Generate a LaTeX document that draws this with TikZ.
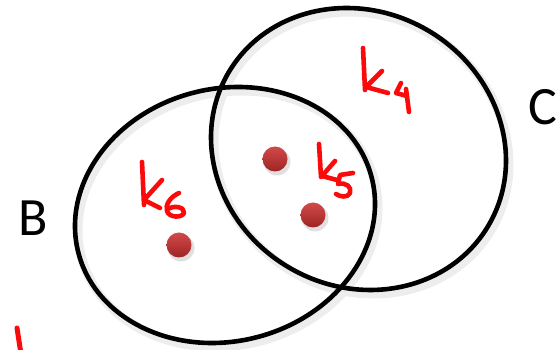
\documentclass[tikz,border=0pt]{standalone}
\usepackage{fontspec}
\setmainfont{Carlito}
\usetikzlibrary{positioning}
\definecolor{ink}{RGB}{250,10,10}
\definecolor{dottop}{RGB}{210,74,74}
\definecolor{dotbot}{RGB}{158,36,36}

\begin{document}
\begin{tikzpicture}[x=1pt, y=1pt,
    setline/.style={line width=4.6pt},
    setshadow/.style={line width=9pt, black!7},
    inkline/.style={ink, line width=4.6pt, line cap=round, line join=round},
    setlabel/.style={font=\fontsize{54}{54}\selectfont, inner sep=0pt}]
  \useasboundingbox (0,0) rectangle (559,350);
  \def\dotr{12.5} % dot radius

  % soft shadows of the two sets
  \draw[setshadow, rotate around={14.3:(228,131)}] (228,131) ellipse (151.4 and 126.3);
  \draw[setshadow, rotate around={-30.5:(361.5,197)}] (361.5,197) ellipse (150.8 and 137.4);

  % set B and set C
  \draw[setline, rotate around={14.3:(225,135)}] (225,135) ellipse (151.4 and 126.3);
  \draw[setline, rotate around={-30.5:(358.5,201)}] (358.5,201) ellipse (150.8 and 137.4);

  % set labels
  \node[setlabel] (labB) at (33,132) {B};
  \node[setlabel] (labC) at (543,243) {C};

  % elements (red dots)
  \foreach \px/\py in {275/191, 313/135, 179/105} {
    \fill[black!12] (\px+2,\py-3) circle (\dotr+1);
    \shade[top color=dottop, bottom color=dotbot] (\px,\py) circle (\dotr);
  }

  % handwritten k6
  \draw[inkline] (142,188) -- (144,145);
  \draw[inkline] (162,170) -- (144,150) -- (160,142);
  \draw[inkline] (179,157) .. controls (170,153) and (165,145) .. (167,139)
    .. controls (169,132) and (182,132) .. (184,137)
    .. controls (185,143) and (174,145) .. (168,141);

  % handwritten k4
  \draw[inkline] (363,302) -- (365,260);
  \draw[inkline] (382,279) -- (366,263) -- (388,257);
  \draw[inkline] (401,267) -- (396,257) -- (407,254);
  \draw[inkline] (406,261) -- (409,238);

  % handwritten k5
  \draw[inkline] (319,206) -- (321,173);
  \draw[inkline] (335,189) -- (322,174) -- (337,170);
  \draw[inkline] (353,177) -- (340,175) -- (338,166)
    .. controls (346,168) and (352,163) .. (350,157)
    .. controls (348,152) and (340,153) .. (336,156);

  % stray pen stroke
  \draw[inkline, line width=5pt] (17,22) -- (21,-4);
\end{tikzpicture}
\end{document}
